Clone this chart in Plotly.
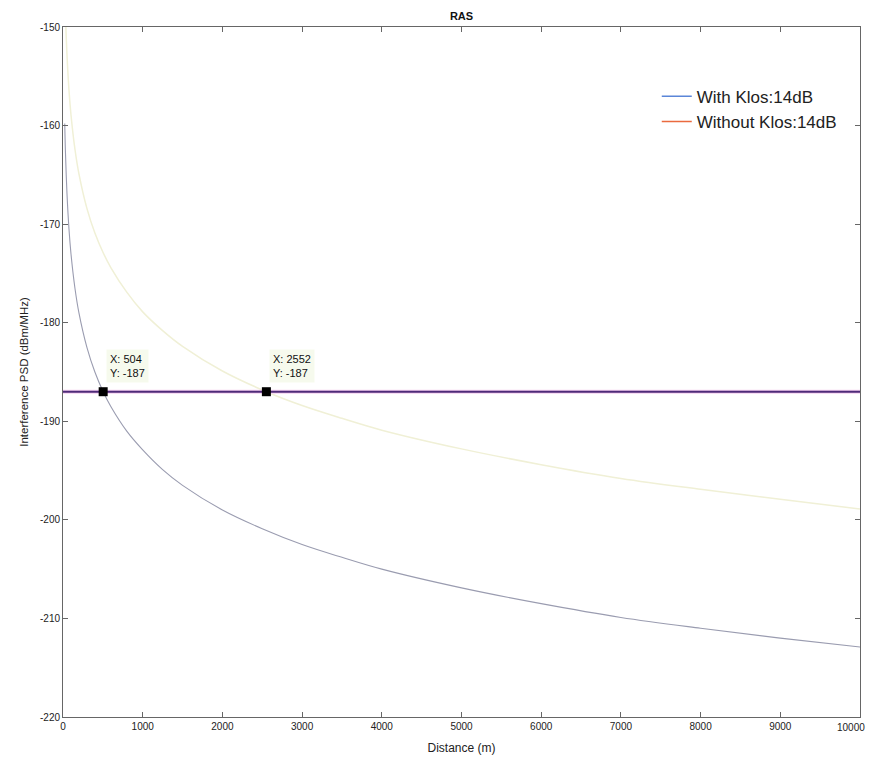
import plotly.graph_objects as go

# ---- data ----
dist_with = [22, 30, 50, 75, 100, 150, 200, 300, 400, 504, 600, 800, 1000, 1250, 1500,
             2000, 2500, 3000, 3500, 4000, 5000, 6000, 7000, 8000, 9000, 10000]
psd_with = [-159.8, -162.5, -166.9, -170.5, -173.0, -176.5, -179.0, -182.5, -185.0, -187.0,
            -188.5, -191.0, -192.9, -194.9, -196.5, -199.0, -200.9, -202.5, -203.8, -205.0,
            -206.9, -208.5, -209.9, -211.0, -212.0, -212.9]

dist_without = [36, 50, 75, 100, 150, 200, 300, 400, 504, 600, 800, 1000, 1250, 1500, 2000,
                2552, 3000, 3500, 4000, 5000, 6000, 7000, 8000, 9000, 10000]
psd_without = [-150.0, -152.8, -156.4, -158.9, -162.4, -164.9, -168.4, -170.9, -172.9, -174.4,
               -176.9, -178.9, -180.8, -182.4, -184.9, -187.0, -188.4, -189.7, -190.9, -192.8,
               -194.4, -195.8, -196.9, -197.9, -198.9]

threshold_x = [0, 10000]
threshold_y = [-187, -187]

tip_x = [504, 2552]
tip_y = [-187, -187]

x_ticks = [0, 1000, 2000, 3000, 4000, 5000, 6000, 7000, 8000, 9000, 10000]
x_tick_labels = ["0", "1000", "2000", "3000", "4000", "5000", "6000", "7000", "8000", "9000", "10000"]
y_ticks = [-220, -210, -200, -190, -180, -170, -160, -150]
y_tick_labels = ["-220", "-210", "-200", "-190", "-180", "-170", "-160", "-150"]

legend_names = ["With Klos:14dB", "Without Klos:14dB"]
legend_colors = ["#5b86d8", "#ea6a3e"]

FONT = "Liberation Sans, Arial, sans-serif"

fig = go.Figure()

# curves (as they appear in the picture: faint)
fig.add_trace(go.Scatter(x=dist_with, y=psd_with, mode="lines", line=dict(color="#9a9cb0", width=1.1),
                         line_shape="spline", showlegend=False, hoverinfo="skip"))
fig.add_trace(go.Scatter(x=dist_without, y=psd_without, mode="lines", line=dict(color="#f0f0d6", width=1.5),
                         line_shape="spline", showlegend=False, hoverinfo="skip"))

# threshold line
fig.add_trace(go.Scatter(x=threshold_x, y=threshold_y, mode="lines",
                         line=dict(color="#f5d0f0", width=4), showlegend=False, hoverinfo="skip"))
fig.add_trace(go.Scatter(x=threshold_x, y=threshold_y, mode="lines",
                         line=dict(color="#4e2a78", width=2), showlegend=False, hoverinfo="skip"))

# data tips
fig.add_trace(go.Scatter(x=tip_x, y=tip_y, mode="markers",
                         marker=dict(symbol="square", size=9, color="black"), showlegend=False))

# legend entries
for name, col in zip(legend_names, legend_colors):
    fig.add_trace(go.Scatter(x=[None], y=[None], mode="lines", name=name,
                             line=dict(color=col, width=1.5)))

for tx, ty in zip(tip_x, tip_y):
    fig.add_annotation(x=tx, y=ty, xref="x", yref="y",
                       text=f"X: {tx}<br>Y: {ty}", showarrow=False,
                       xanchor="left", yanchor="bottom", xshift=3, yshift=9, align="left",
                       font=dict(family=FONT, size=11, color="#111"),
                       bgcolor="rgba(246,250,236,0.95)", borderpad=3)

# last x tick label drawn as right-anchored text so it is not cut at the page edge
shown_x_labels = x_tick_labels[:-1] + [""]
fig.add_annotation(x=x_ticks[-1], y=0, xref="x", yref="paper", text=x_tick_labels[-1],
                   showarrow=False, xanchor="right", yanchor="top", xshift=7, yshift=-3,
                   font=dict(family=FONT, size=10, color="#222"))

axis_common = dict(showgrid=False, zeroline=False, showline=True, linecolor="#666", linewidth=1,
                   mirror="allticks", ticks="inside", ticklen=5, tickcolor="#666", automargin=False,
                   tickfont=dict(family=FONT, size=10, color="#222"))

fig.update_layout(
    width=877, height=750,
    margin=dict(l=55, r=25, t=19, b=41),
    paper_bgcolor="white", plot_bgcolor="white",
    title=dict(text="<b>RAS</b>", x=0.5, xref="paper", xanchor="center",
               y=1 - 4 / 750, yanchor="top",
               font=dict(family=FONT, size=11, color="#111")),
    xaxis=dict(range=[0, 10000], tickmode="array", tickvals=x_ticks, ticktext=shown_x_labels,
               title=dict(text="Distance (m)", standoff=12,
                          font=dict(family=FONT, size=12, color="#222")), **axis_common),
    yaxis=dict(range=[-220, -150], tickmode="array", tickvals=y_ticks, ticktext=y_tick_labels,
               title=dict(text="Interference PSD (dBm/MHz)", standoff=8,
                          font=dict(family=FONT, size=11.5, color="#222")), **axis_common),
    legend=dict(x=0.745, y=0.925, xanchor="left", yanchor="top", bgcolor="rgba(0,0,0,0)",
                font=dict(family=FONT, size=17, color="#222"),
                tracegroupgap=0, itemwidth=30),
)

fig.write_html("out.html")
